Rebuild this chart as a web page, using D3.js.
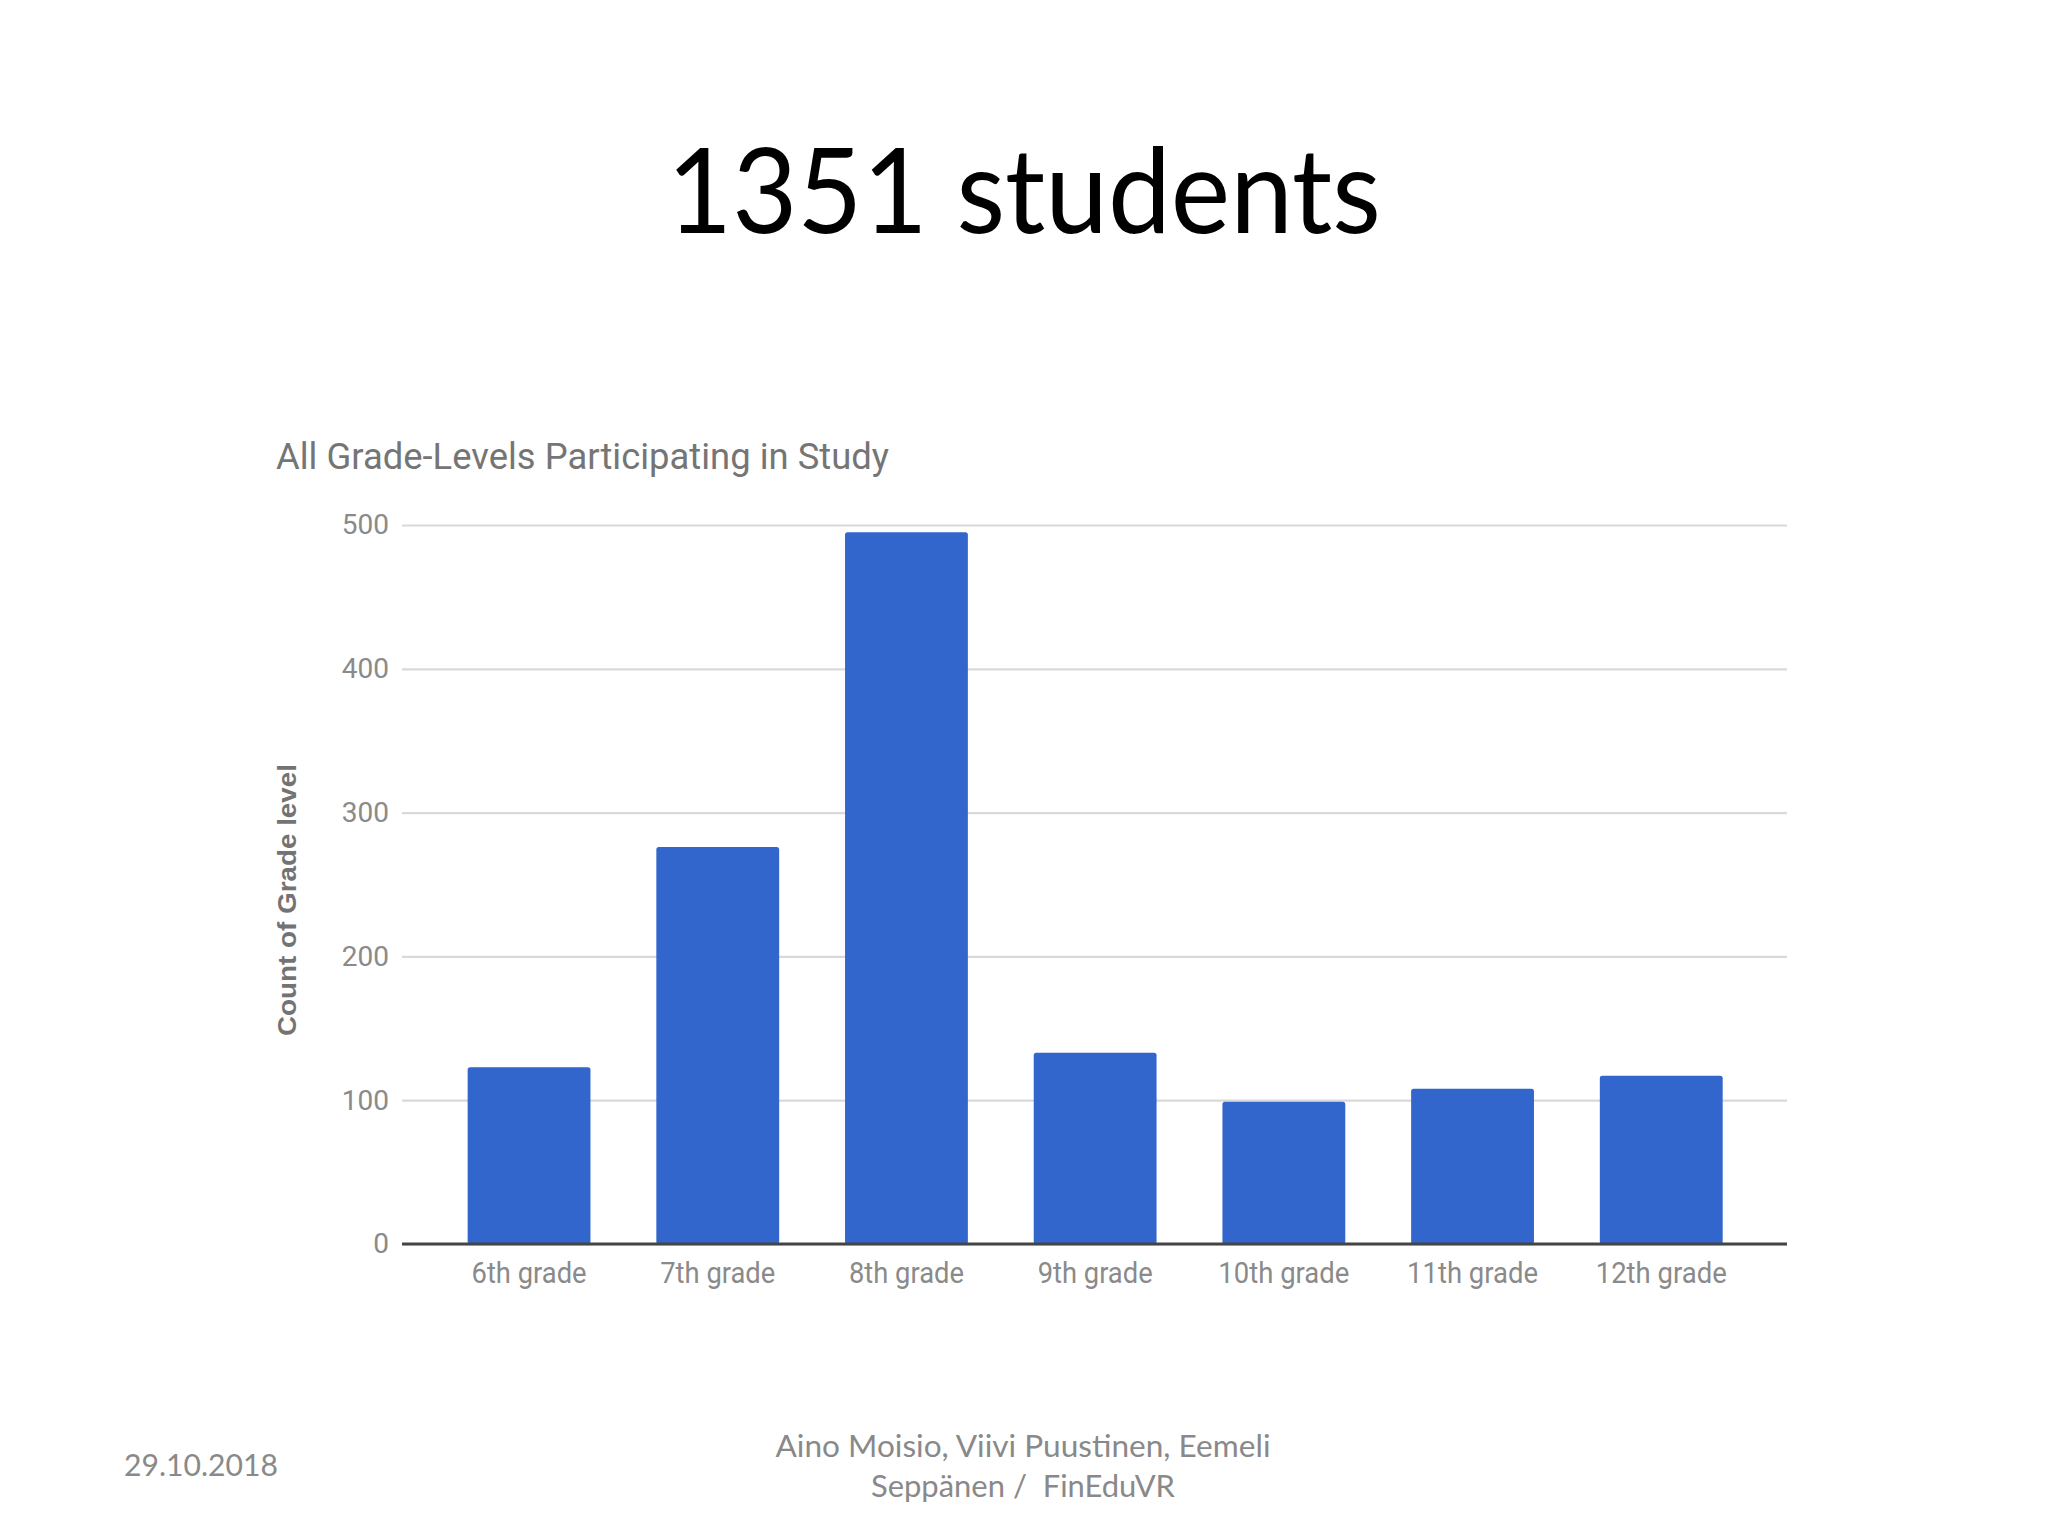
<!DOCTYPE html>
<html>
<head>
<meta charset="utf-8">
<script src="https://cdn.jsdelivr.net/npm/d3@7"></script>
<style>
  html, body { margin: 0; padding: 0; background: #ffffff; }
  svg { display: block; }
</style>
</head>
<body>
<script>
const grades = ["6th grade", "7th grade", "8th grade", "9th grade", "10th grade", "11th grade", "12th grade"];
const counts = [123, 276, 495, 133, 99, 108, 117];
const yTicks = [0, 100, 200, 300, 400, 500];
const slideTitle = "1351 students";
const chartTitle = "All Grade-Levels Participating in Study";
const yAxisTitle = "Count of Grade level";
const footerDate = "29.10.2018";
const footerAuthors = ["Aino Moisio, Viivi Puustinen, Eemeli", "Seppänen /  FinEduVR"];

const W = 2048, H = 1536;
const svg = d3.select("body").append("svg").attr("width", W).attr("height", H);
svg.append("rect").attr("width", W).attr("height", H).attr("fill", "#ffffff");

// slide title
svg.append("text")
  .attr("x", 1024).attr("y", 233)
  .attr("text-anchor", "middle")
  .attr("font-family", "Lato, 'Open Sans', sans-serif")
  .attr("font-size", 118)
  .attr("fill", "#000")
  .attr("textLength", 714).attr("lengthAdjust", "spacingAndGlyphs")
  .text(slideTitle);

// chart
const gridLeft = 402, gridRight = 1787;
const x = d3.scaleBand().domain(grades).range([434.7, 1755.6]).paddingInner(0.349).paddingOuter(0.1745);
const y = d3.scaleLinear().domain([0, 500]).range([1244, 525]);

svg.append("text")
  .attr("x", 276).attr("y", 469)
  .attr("font-family", "Roboto, sans-serif")
  .attr("font-size", 37)
  .attr("fill", "#757575")
  .attr("textLength", 613).attr("lengthAdjust", "spacingAndGlyphs")
  .text(chartTitle);

const yAxis = svg.append("g")
  .attr("transform", `translate(${gridLeft},0)`)
  .call(d3.axisLeft(y).tickValues(yTicks).tickSize(-(gridRight - gridLeft)).tickPadding(13).tickFormat(d3.format("d")));
yAxis.select(".domain").remove();
yAxis.selectAll(".tick line").attr("stroke", "#d9d9d9").attr("stroke-width", 2.2);
yAxis.selectAll(".tick text")
  .attr("font-family", "Roboto, sans-serif")
  .attr("font-size", 28)
  .attr("fill", "#8a8a8a");

// bars
svg.append("g").selectAll("rect").data(counts).join("rect")
  .attr("x", (d, i) => x(grades[i]))
  .attr("y", d => y(d))
  .attr("width", x.bandwidth())
  .attr("height", d => y(0) - y(d))
  .attr("rx", 2.5)
  .attr("fill", "#3366cc");

// baseline
svg.append("line")
  .attr("x1", gridLeft).attr("x2", gridRight)
  .attr("y1", y(0)).attr("y2", y(0))
  .attr("stroke", "#444").attr("stroke-width", 3);

// x axis labels
const xAxis = svg.append("g")
  .attr("transform", `translate(0,${y(0)})`)
  .call(d3.axisBottom(x).tickSize(0));
xAxis.select(".domain").remove();
xAxis.selectAll(".tick text")
  .attr("y", 39).attr("dy", 0)
  .attr("font-family", "Roboto, sans-serif")
  .attr("font-size", 30)
  .attr("fill", "#8a8a8a")
  .attr("textLength", d => d.length > 9 ? 131 : 115)
  .attr("lengthAdjust", "spacingAndGlyphs");

// y axis title
svg.append("text")
  .attr("transform", "translate(296,900) rotate(-90)")
  .attr("text-anchor", "middle")
  .attr("font-family", "'Liberation Sans', Arial, sans-serif")
  .attr("font-size", 26)
  .attr("font-weight", "bold")
  .attr("fill", "#737373")
  .attr("textLength", 272).attr("lengthAdjust", "spacingAndGlyphs")
  .text(yAxisTitle);

// footer
svg.append("text")
  .attr("x", 124).attr("y", 1476)
  .attr("font-family", "Lato, sans-serif")
  .attr("font-size", 30)
  .attr("fill", "#898989")
  .attr("textLength", 154).attr("lengthAdjust", "spacingAndGlyphs")
  .text(footerDate);

const authorLens = [495, 304];
svg.append("g").selectAll("text").data(footerAuthors).join("text")
  .attr("x", 1023)
  .attr("y", (d, i) => 1457 + i * 40)
  .attr("text-anchor", "middle")
  .attr("font-family", "Lato, sans-serif")
  .attr("font-size", 30)
  .attr("fill", "#898989")
  .style("white-space", "pre")
  .attr("textLength", (d, i) => authorLens[i]).attr("lengthAdjust", "spacingAndGlyphs")
  .text(d => d);
</script>
</body>
</html>
